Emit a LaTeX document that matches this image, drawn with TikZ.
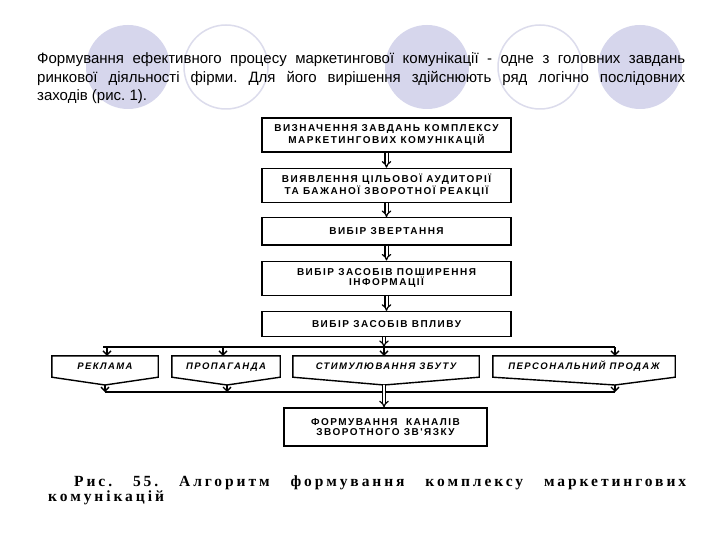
\documentclass[tikz,border=0pt]{standalone}
\usepackage{fontspec}
\setmainfont{Liberation Sans}
\newfontfamily\boxfont[LetterSpace=15]{Liberation Sans}
\newfontfamily\capfont[LetterSpace=19]{Liberation Serif}
\usetikzlibrary{arrows.meta,positioning}
\definecolor{circfill}{HTML}{D6D6EC}
\definecolor{circline}{HTML}{DCDCEC}
\frenchspacing

\begin{document}
\begin{tikzpicture}[x=1pt,y=-1pt,
  stepbox/.style={draw, line width=1.4pt, minimum width=249pt, minimum height=34pt, inner sep=0pt, align=center, font=\boxfont\fontsize{10}{9.5}\selectfont\bfseries},
  mediabox/.style={minimum height=21pt, inner sep=0pt, text height=7pt, text depth=1pt, font=\boxfont\fontsize{9.5}{9.5}\selectfont\bfseries\itshape},
  para/.style={anchor=base west, inner sep=0pt, font=\fontsize{15}{18}\selectfont},
  capline/.style={anchor=base west, inner sep=0pt, font=\capfont\fontsize{15.5}{15}\selectfont\bfseries},
  edge/.style={line width=1.4pt},
  arr/.style={-{Straight Barb[length=4pt,width=8pt]}, line width=1.3pt},
  dbl/.style={double, double distance=2pt, line width=1.2pt, -{Implies}}
]
  \fill[white] (0,0) rectangle (720,540);
  \useasboundingbox (0,0) rectangle (720,540);

  \foreach \cx in {128,427,640} \fill[circfill] (\cx,67) circle (42pt);
  \foreach \cx in {226,540} \draw[circline, line width=1.5pt] (\cx,67) circle (42pt);

  \node[para] (t1) at (37,64) {\makebox[648pt][s]{Формування ефективного процесу маркетингової комунікації - одне з головних завдань}};
  \node[para] (t2) at (37,83) {\makebox[648pt][s]{ринкової діяльності фірми. Для його вирішення здійснюють ряд логічно послідовних}};
  \node[para] (t3) at (37,101) {заходів (рис. 1).};

  \node[stepbox] (b1) at (386.5,135) {ВИЗНАЧЕННЯ ЗАВДАНЬ КОМПЛЕКСУ\\МАРКЕТИНГОВИХ КОМУНІКАЦІЙ};
  \node[stepbox, below=15pt of b1] (b2) {ВИЯВЛЕННЯ ЦІЛЬОВОЇ АУДИТОРІЇ\\ТА БАЖАНОЇ ЗВОРОТНОЇ РЕАКЦІЇ};
  \node[stepbox, minimum height=27pt, below=14pt of b2] (b3) {ВИБІР ЗВЕРТАННЯ};
  \node[stepbox, below=15pt of b3] (b4) {ВИБІР ЗАСОБІВ ПОШИРЕННЯ\\ІНФОРМАЦІЇ};
  \node[stepbox, minimum height=25pt, below=15pt of b4] (b5) {ВИБІР ЗАСОБІВ ВПЛИВУ};

  \node[mediabox, minimum width=106pt] (m1) at (105,366.5) {РЕКЛАМА};
  \node[mediabox, minimum width=108pt] (m2) at (226,366.5) {ПРОПАГАНДА};
  \node[mediabox, minimum width=186pt] (m3) at (386,366.5) {СТИМУЛЮВАННЯ ЗБУТУ};
  \node[mediabox, minimum width=182pt] (m4) at (584,366.5) {ПЕРСОНАЛЬНИЙ ПРОДАЖ};

  \node[stepbox, minimum width=203pt, minimum height=38pt] (fin) at (385.5,427) {ФОРМУВАННЯ\ \ КАНАЛІВ\\ЗВОРОТНОГО ЗВ'ЯЗКУ};

  \coordinate (k1) at (105,385);
  \coordinate (k2) at (227,385);
  \coordinate (k3) at (384,385);
  \coordinate (k4) at (615,385);
  \draw[edge] (m1.north west) -- (m1.north east) -- (m1.south east) -- (k1) -- (m1.south west) -- cycle;
  \draw[edge] (m2.north west) -- (m2.north east) -- (m2.south east) -- (k2) -- (m2.south west) -- cycle;
  \draw[edge] (m3.north west) -- (m3.north east) -- (m3.south east) -- (k3) -- (m3.south west) -- cycle;
  \draw[edge] (m4.north west) -- (m4.north east) -- (m4.south east) -- (k4) -- (m4.south west) -- cycle;

  \coordinate (u1) at (107,347);
  \coordinate (u2) at (223,347);
  \coordinate (u3) at (384,347);
  \coordinate (u4) at (615,347);
  \coordinate (w1) at (105,392);
  \coordinate (w4) at (615,392);
  \draw[edge] (103,347) -- (u4);
  \draw[edge] (w1) -- (w4);

  \draw[dbl] (b1) -- (b2);
  \draw[dbl] (b2) -- (b3);
  \draw[dbl] (b3) -- (b4);
  \draw[dbl] (b4) -- (b5);
  \draw[dbl] (b5.south -| u3) -- (u3);
  \draw[arr] (u1) -- (u1 |- m1.north);
  \draw[arr] (u2) -- (u2 |- m2.north);
  \draw[arr] (u3) -- (u3 |- m3.north);
  \draw[arr] (u4) -- (u4 |- m4.north);
  \draw[arr] (k1) -- (w1);
  \draw[arr] (k2) -- (k2 |- w1);
  \draw[arr] (k4) -- (w4);
  \draw[dbl] (k3) -- (k3 |- fin.north);

  \node[capline] (c1) at (74,486) {\makebox[612pt][s]{Рис. 55. Алгоритм формування комплексу маркетингових}};
  \node[capline] (c2) at (48,501) {комунікацій};
\end{tikzpicture}
\end{document}
